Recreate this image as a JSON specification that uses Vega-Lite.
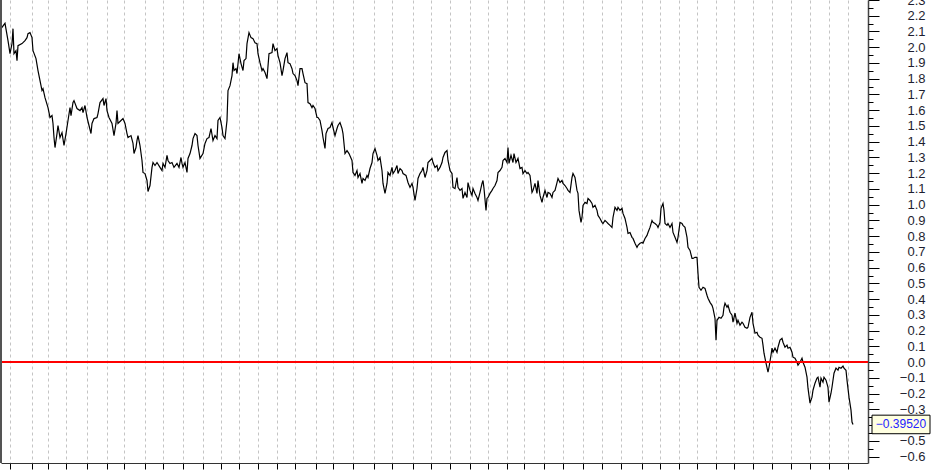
{
  "$schema": "https://vega.github.io/schema/vega-lite/v6.json",
  "width": 867,
  "height": 463,
  "autosize": "none",
  "padding": {"left": 1, "top": 0, "right": 64, "bottom": 7},
  "background": "white",
  "view": {"stroke": null},
  "config": {"axis": {"labelFont": "Liberation Sans", "labelFontSize": 13}},
  "data": {"values": [
    {"t":1,"v":2.118},{"t":5,"v":2.152},{"t":8,"v":2.042},{"t":10,"v":1.959},{"t":12,"v":2.023},{"t":13,"v":2.118},{"t":14,"v":1.959},{"t":16,"v":1.978},{"t":17,"v":1.915},{"t":18,"v":2.010},{"t":22,"v":2.023},{"t":25,"v":2.042},{"t":27,"v":2.061},{"t":28,"v":2.086},{"t":30,"v":2.093},{"t":32,"v":2.061},{"t":33,"v":1.978},{"t":36,"v":1.928},{"t":38,"v":1.852},{"t":40,"v":1.788},{"t":42,"v":1.725},{"t":43,"v":1.737},{"t":45,"v":1.680},{"t":48,"v":1.617},{"t":50,"v":1.554},{"t":52,"v":1.566},{"t":53,"v":1.516},{"t":54,"v":1.427},{"t":55,"v":1.363},{"t":57,"v":1.452},{"t":58,"v":1.503},{"t":60,"v":1.427},{"t":62,"v":1.458},{"t":64,"v":1.376},{"t":66,"v":1.452},{"t":68,"v":1.535},{"t":70,"v":1.617},{"t":71,"v":1.566},{"t":73,"v":1.649},{"t":74,"v":1.661},{"t":77,"v":1.611},{"t":80,"v":1.598},{"t":82,"v":1.617},{"t":83,"v":1.585},{"t":85,"v":1.630},{"t":87,"v":1.554},{"t":89,"v":1.503},{"t":91,"v":1.452},{"t":92,"v":1.516},{"t":94,"v":1.547},{"t":97,"v":1.554},{"t":98,"v":1.579},{"t":100,"v":1.649},{"t":103,"v":1.674},{"t":104,"v":1.630},{"t":106,"v":1.674},{"t":107,"v":1.598},{"t":109,"v":1.554},{"t":112,"v":1.516},{"t":114,"v":1.439},{"t":116,"v":1.516},{"t":117,"v":1.598},{"t":118,"v":1.516},{"t":121,"v":1.535},{"t":123,"v":1.547},{"t":125,"v":1.516},{"t":127,"v":1.452},{"t":128,"v":1.427},{"t":131,"v":1.439},{"t":133,"v":1.389},{"t":134,"v":1.325},{"t":136,"v":1.363},{"t":137,"v":1.408},{"t":138,"v":1.439},{"t":140,"v":1.376},{"t":142,"v":1.281},{"t":143,"v":1.205},{"t":145,"v":1.198},{"t":147,"v":1.154},{"t":148,"v":1.084},
    {"t":150,"v":1.122},{"t":152,"v":1.237},{"t":153,"v":1.268},{"t":155,"v":1.249},{"t":157,"v":1.268},{"t":160,"v":1.237},{"t":162,"v":1.217},{"t":163,"v":1.262},{"t":165,"v":1.237},{"t":167,"v":1.313},{"t":168,"v":1.281},{"t":170,"v":1.262},{"t":172,"v":1.268},{"t":174,"v":1.237},{"t":177,"v":1.262},{"t":179,"v":1.237},{"t":181,"v":1.300},{"t":182,"v":1.262},{"t":183,"v":1.237},{"t":185,"v":1.268},{"t":187,"v":1.205},{"t":188,"v":1.294},{"t":190,"v":1.325},{"t":192,"v":1.376},{"t":193,"v":1.420},{"t":195,"v":1.452},{"t":197,"v":1.439},{"t":198,"v":1.376},{"t":200,"v":1.294},{"t":203,"v":1.325},{"t":205,"v":1.389},{"t":207,"v":1.420},{"t":209,"v":1.427},{"t":211,"v":1.484},{"t":213,"v":1.408},{"t":215,"v":1.439},{"t":217,"v":1.420},{"t":218,"v":1.535},{"t":220,"v":1.554},{"t":222,"v":1.490},{"t":223,"v":1.439},{"t":225,"v":1.420},{"t":227,"v":1.535},{"t":228,"v":1.725},{"t":230,"v":1.756},{"t":232,"v":1.820},{"t":233,"v":1.902},{"t":234,"v":1.852},{"t":236,"v":1.864},{"t":237,"v":1.833},{"t":239,"v":1.959},{"t":241,"v":1.896},{"t":243,"v":1.852},{"t":244,"v":1.915},{"t":246,"v":1.928},{"t":247,"v":2.023},{"t":249,"v":2.093},{"t":251,"v":2.061},{"t":253,"v":2.055},{"t":255,"v":2.029},{"t":257,"v":2.023},{"t":258,"v":1.959},{"t":260,"v":1.902},{"t":262,"v":1.852},{"t":263,"v":1.864},{"t":265,"v":1.839},{"t":267,"v":1.801},{"t":269,"v":1.959},{"t":272,"v":1.966},{"t":273,"v":2.023},{"t":275,"v":1.978},{"t":277,"v":1.991},{"t":278,"v":1.947},{"t":280,"v":1.902},{"t":282,"v":1.820},{"t":283,"v":1.852},{"t":285,"v":1.928},{"t":287,"v":1.966},{"t":288,"v":1.902},{"t":290,"v":1.896},{"t":292,"v":1.864},{"t":293,"v":1.833},{"t":295,"v":1.820},{"t":297,"v":1.788},{"t":298,"v":1.756},{"t":300,"v":1.864},
    {"t":302,"v":1.864},{"t":303,"v":1.833},{"t":305,"v":1.775},{"t":307,"v":1.769},{"t":308,"v":1.649},{"t":310,"v":1.642},{"t":312,"v":1.617},{"t":313,"v":1.630},{"t":315,"v":1.611},{"t":317,"v":1.554},{"t":318,"v":1.554},{"t":320,"v":1.535},{"t":322,"v":1.471},{"t":323,"v":1.427},{"t":325,"v":1.357},{"t":326,"v":1.452},{"t":328,"v":1.484},{"t":330,"v":1.490},{"t":332,"v":1.522},{"t":333,"v":1.490},{"t":335,"v":1.439},{"t":337,"v":1.484},{"t":338,"v":1.503},{"t":340,"v":1.522},{"t":342,"v":1.484},{"t":343,"v":1.452},{"t":345,"v":1.325},{"t":347,"v":1.344},{"t":349,"v":1.325},{"t":352,"v":1.281},{"t":353,"v":1.205},{"t":355,"v":1.186},{"t":357,"v":1.217},{"t":358,"v":1.173},{"t":360,"v":1.198},{"t":362,"v":1.135},{"t":363,"v":1.167},{"t":365,"v":1.154},{"t":367,"v":1.186},{"t":368,"v":1.173},{"t":370,"v":1.230},{"t":372,"v":1.268},{"t":373,"v":1.325},{"t":375,"v":1.357},{"t":377,"v":1.313},{"t":378,"v":1.281},{"t":380,"v":1.300},{"t":382,"v":1.217},{"t":383,"v":1.135},{"t":385,"v":1.072},{"t":387,"v":1.135},{"t":388,"v":1.205},{"t":390,"v":1.186},{"t":392,"v":1.237},{"t":393,"v":1.198},{"t":395,"v":1.217},{"t":397,"v":1.249},{"t":398,"v":1.198},{"t":400,"v":1.230},{"t":402,"v":1.217},{"t":403,"v":1.198},{"t":406,"v":1.186},{"t":408,"v":1.141},{"t":410,"v":1.110},{"t":412,"v":1.135},{"t":413,"v":1.110},{"t":415,"v":1.027},{"t":417,"v":1.103},{"t":418,"v":1.167},{"t":420,"v":1.198},{"t":422,"v":1.217},{"t":423,"v":1.237},{"t":425,"v":1.173},{"t":427,"v":1.217},{"t":428,"v":1.268},{"t":430,"v":1.281},{"t":432,"v":1.294},{"t":433,"v":1.268},{"t":435,"v":1.237},{"t":437,"v":1.249},{"t":438,"v":1.217},{"t":440,"v":1.237},{"t":442,"v":1.268},{"t":443,"v":1.300},{"t":445,"v":1.332},{"t":447,"v":1.344},{"t":448,"v":1.281},{"t":450,"v":1.217},
    {"t":452,"v":1.198},{"t":453,"v":1.110},{"t":455,"v":1.103},{"t":457,"v":1.173},{"t":458,"v":1.110},{"t":460,"v":1.091},{"t":462,"v":1.103},{"t":463,"v":1.040},{"t":465,"v":1.078},{"t":467,"v":1.046},{"t":468,"v":1.141},{"t":470,"v":1.091},{"t":472,"v":1.059},{"t":473,"v":1.103},{"t":475,"v":1.072},{"t":477,"v":1.046},{"t":478,"v":1.027},{"t":480,"v":1.078},{"t":482,"v":1.135},{"t":483,"v":1.154},{"t":484,"v":1.103},{"t":486,"v":0.964},{"t":487,"v":1.040},{"t":488,"v":1.046},{"t":490,"v":1.072},{"t":492,"v":1.091},{"t":493,"v":1.103},{"t":495,"v":1.122},{"t":497,"v":1.154},{"t":498,"v":1.205},{"t":500,"v":1.217},{"t":502,"v":1.237},{"t":503,"v":1.281},{"t":505,"v":1.294},{"t":507,"v":1.268},{"t":508,"v":1.363},{"t":509,"v":1.262},{"t":511,"v":1.313},{"t":513,"v":1.268},{"t":514,"v":1.325},{"t":516,"v":1.268},{"t":518,"v":1.294},{"t":520,"v":1.230},{"t":522,"v":1.237},{"t":523,"v":1.198},{"t":525,"v":1.217},{"t":527,"v":1.198},{"t":528,"v":1.205},{"t":530,"v":1.186},{"t":532,"v":1.078},{"t":533,"v":1.091},{"t":535,"v":1.135},{"t":537,"v":1.072},{"t":538,"v":1.154},{"t":540,"v":1.059},{"t":542,"v":1.015},{"t":543,"v":1.046},{"t":545,"v":1.091},{"t":547,"v":1.046},{"t":548,"v":1.078},{"t":550,"v":1.072},{"t":552,"v":1.046},{"t":553,"v":1.078},{"t":555,"v":1.091},{"t":557,"v":1.141},{"t":558,"v":1.167},{"t":560,"v":1.141},{"t":562,"v":1.154},{"t":563,"v":1.135},{"t":565,"v":1.122},{"t":567,"v":1.103},{"t":568,"v":1.091},{"t":570,"v":1.078},{"t":572,"v":1.173},{"t":573,"v":1.198},{"t":575,"v":1.173},{"t":577,"v":1.091},{"t":578,"v":1.072},{"t":579,"v":0.964},{"t":581,"v":0.888},{"t":582,"v":0.919},{"t":583,"v":0.996},{"t":585,"v":1.015},{"t":587,"v":1.008},{"t":588,"v":1.040},{"t":590,"v":1.027},{"t":592,"v":1.008},{"t":593,"v":0.983},{"t":595,"v":0.996},{"t":597,"v":0.964},{"t":598,"v":0.932},{"t":600,"v":0.913},
    {"t":602,"v":0.888},{"t":603,"v":0.881},{"t":605,"v":0.900},{"t":607,"v":0.888},{"t":608,"v":0.881},{"t":610,"v":0.869},{"t":612,"v":0.856},{"t":613,"v":0.919},{"t":615,"v":0.983},{"t":617,"v":0.964},{"t":618,"v":0.983},{"t":620,"v":0.964},{"t":622,"v":0.977},{"t":623,"v":0.945},{"t":625,"v":0.913},{"t":627,"v":0.856},{"t":628,"v":0.818},{"t":630,"v":0.824},{"t":632,"v":0.793},{"t":633,"v":0.786},{"t":635,"v":0.755},{"t":637,"v":0.729},{"t":638,"v":0.742},{"t":640,"v":0.755},{"t":642,"v":0.761},{"t":643,"v":0.755},{"t":645,"v":0.786},{"t":647,"v":0.805},{"t":648,"v":0.824},{"t":650,"v":0.856},{"t":652,"v":0.900},{"t":653,"v":0.888},{"t":655,"v":0.881},{"t":657,"v":0.869},{"t":658,"v":0.856},{"t":660,"v":0.888},{"t":661,"v":0.977},{"t":663,"v":1.008},{"t":664,"v":0.964},{"t":665,"v":0.881},{"t":667,"v":0.869},{"t":668,"v":0.881},{"t":670,"v":0.856},{"t":672,"v":0.881},{"t":673,"v":0.824},{"t":675,"v":0.793},{"t":677,"v":0.761},{"t":678,"v":0.793},{"t":680,"v":0.888},{"t":682,"v":0.881},{"t":683,"v":0.869},{"t":685,"v":0.856},{"t":687,"v":0.793},{"t":688,"v":0.729},{"t":690,"v":0.710},{"t":692,"v":0.659},{"t":693,"v":0.659},{"t":695,"v":0.666},{"t":697,"v":0.666},{"t":698,"v":0.564},{"t":699,"v":0.476},{"t":701,"v":0.457},{"t":703,"v":0.476},{"t":705,"v":0.469},{"t":707,"v":0.425},{"t":708,"v":0.406},{"t":710,"v":0.380},{"t":712,"v":0.361},{"t":713,"v":0.342},{"t":715,"v":0.279},{"t":716,"v":0.140},{"t":717,"v":0.266},{"t":719,"v":0.285},{"t":721,"v":0.279},{"t":723,"v":0.298},{"t":724,"v":0.349},{"t":725,"v":0.374},{"t":727,"v":0.349},{"t":728,"v":0.361},{"t":730,"v":0.317},
    {"t":732,"v":0.298},{"t":733,"v":0.254},{"t":735,"v":0.311},{"t":737,"v":0.247},{"t":738,"v":0.266},{"t":740,"v":0.235},{"t":742,"v":0.254},{"t":743,"v":0.247},{"t":745,"v":0.222},{"t":747,"v":0.216},{"t":748,"v":0.222},{"t":750,"v":0.285},{"t":752,"v":0.317},{"t":753,"v":0.247},{"t":755,"v":0.184},{"t":757,"v":0.190},{"t":758,"v":0.171},{"t":760,"v":0.159},{"t":762,"v":0.152},{"t":763,"v":0.108},{"t":764,"v":0.057},{"t":766,"v":-0.006},{"t":768,"v":-0.063},{"t":769,"v":-0.032},{"t":771,"v":0.044},{"t":772,"v":0.089},{"t":773,"v":0.063},{"t":775,"v":0.089},{"t":777,"v":0.063},{"t":778,"v":0.095},{"t":780,"v":0.140},{"t":782,"v":0.152},{"t":783,"v":0.127},{"t":785,"v":0.095},{"t":787,"v":0.108},{"t":788,"v":0.089},{"t":790,"v":0.095},{"t":792,"v":0.063},{"t":793,"v":0.032},{"t":795,"v":0.025},{"t":797,"v":0.0},{"t":798,"v":-0.019},{"t":800,"v":0.0},{"t":802,"v":0.025},{"t":803,"v":0.0},{"t":805,"v":-0.032},{"t":807,"v":-0.095},{"t":808,"v":-0.165},{"t":810,"v":-0.260},{"t":812,"v":-0.222},{"t":813,"v":-0.178},{"t":815,"v":-0.133},{"t":817,"v":-0.101},{"t":818,"v":-0.095},{"t":820,"v":-0.159},{"t":821,"v":-0.101},{"t":823,"v":-0.127},{"t":824,"v":-0.095},{"t":826,"v":-0.114},{"t":828,"v":-0.159},{"t":829,"v":-0.254},{"t":831,"v":-0.197},{"t":832,"v":-0.159},{"t":834,"v":-0.070},{"t":836,"v":-0.038},{"t":838,"v":-0.051},{"t":839,"v":-0.032},{"t":841,"v":-0.038},{"t":843,"v":-0.025},{"t":844,"v":-0.038},{"t":846,"v":-0.051},{"t":847,"v":-0.114},{"t":849,"v":-0.222},{"t":851,"v":-0.304},{"t":852,"v":-0.380},{"t":853,"v":-0.3952}
  ]},
  "layer": [
    {
      "mark": {"type": "line", "color": "black", "strokeWidth": 1.2, "interpolate": "linear"},
      "encoding": {
        "x": {"field": "t", "type": "quantitative",
              "scale": {"domain": [1, 868], "nice": false, "zero": false},
              "axis": {"title": null, "labels": false, "values": [10,32,48,66,87,107,124,145,163,183,203,221,239,258,277,295,316,333,353,374,392,413,431,450,470,488,507,524,544,563,583,602,621,642,660,679,697,716,734,753,772,791,810,829,848],
                       "grid": true, "gridColor": "#c4c4c4", "gridDash": [3, 3], "gridWidth": 1,
                       "ticks": true, "tickSize": 6, "tickColor": "#000000", "domain": true, "domainColor": "#333333"}},
        "y": {"field": "v", "type": "quantitative",
              "scale": {"domain": [-0.64, 2.3], "nice": false, "zero": false},
              "axis": {"orient": "right", "title": null, "grid": false,
                       "values": [-0.6,-0.5,-0.4,-0.3,-0.2,-0.1,0,0.1,0.2,0.3,0.4,0.5,0.6,0.7,0.8,0.9,1,1.1,1.2,1.3,1.4,1.5,1.6,1.7,1.8,1.9,2,2.1,2.2,2.3],
                       "format": ".1f", "labelOverlap": false, "labelFlush": false, "labelBound": false,
                       "tickSize": 11, "tickColor": "#000000", "domainColor": "#444444", "domainWidth": 1.5,
                       "labelAlign": "right", "labelPadding": 46, "labelColor": "#1e1e30", "labelBaseline": "middle"}}
      }
    },
    {
      "mark": {"type": "rule", "color": "#ff0000", "strokeWidth": 1},
      "encoding": {
        "y": {"datum": 0, "type": "quantitative",
              "axis": {"orient": "right", "title": null, "grid": false, "labels": false, "domain": false,
                       "values": [-0.55,-0.45,-0.35,-0.25,-0.15,-0.05,0.05,0.15,0.25,0.35,0.45,0.55,0.65,0.75,0.85,0.95,1.05,1.15,1.25,1.35,1.45,1.55,1.65,1.75,1.85,1.95,2.05,2.15,2.25],
                       "tickSize": 5, "tickColor": "#000000"}}
      }
    },
    {
      "mark": {"type": "rule", "color": "#555555", "strokeWidth": 1.5},
      "encoding": {"x": {"datum": 1, "type": "quantitative",
              "axis": {"title": null, "labels": false, "values": [10,32,48,66,87,107,124,145,163,183,203,221,239,258,277,295,316,333,353,374,392,413,431,450,470,488,507,524,544,563,583,602,621,642,660,679,697,716,734,753,772,791,810,829,848],
                       "grid": true, "gridColor": "#c4c4c4", "gridDash": [3, 3], "gridWidth": 1,
                       "ticks": true, "tickSize": 6, "tickColor": "#000000", "domain": true, "domainColor": "#333333"}}}
    },
    {
      "transform": [{"joinaggregate": [{"op": "max", "field": "t", "as": "tmax"}]}, {"filter": "datum.t == datum.tmax"}],
      "layer": [
        {
          "mark": {"type": "point", "shape": "M-1,-0.32H1V0.32H-1Z", "size": 3364, "fill": "#ffffe1", "stroke": "#000000", "strokeWidth": 1, "opacity": 1, "fillOpacity": 1, "filled": true, "xOffset": 33},
          "encoding": {"x": {"value": "width"}, "y": {"field": "v", "type": "quantitative", "axis": null}}
        },
        {
          "mark": {"type": "text", "color": "#2323ff", "font": "Liberation Sans", "fontSize": 12, "align": "center", "baseline": "middle", "xOffset": 33},
          "encoding": {"x": {"value": "width"}, "y": {"field": "v", "type": "quantitative", "axis": null}, "text": {"field": "v", "type": "quantitative", "format": ".5f"}}
        }
      ]
    }
  ],
  "resolve": {"axis": {"y": "independent"}}
}
